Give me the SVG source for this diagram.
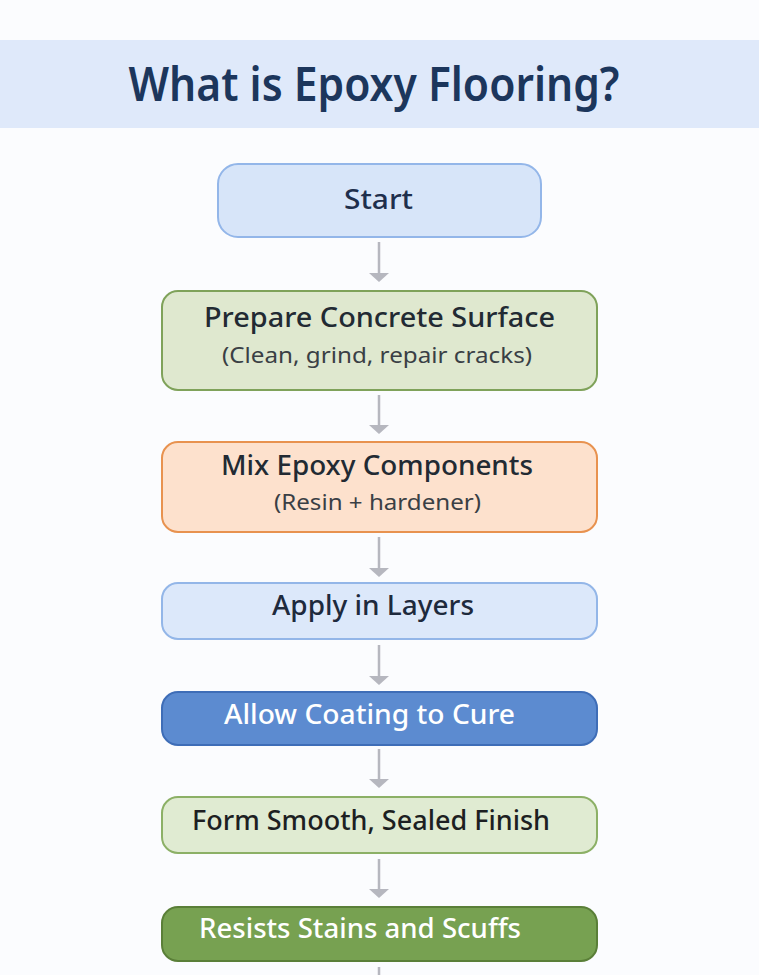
<svg xmlns="http://www.w3.org/2000/svg" width="759" height="975" viewBox="0 0 759 975">
<defs>
<style>
.t{font-family:"Noto Sans","Open Sans","DejaVu Sans",sans-serif;text-anchor:middle}
.h{font-size:27px;font-weight:500;fill:#222a33}
.s{font-size:22.5px;font-weight:400;fill:#3a3f45}
.c{stroke:#b6b7bf;stroke-width:2.5;fill:none}
.a{fill:#b6b7bf}
</style>
</defs>
<rect width="759" height="975" fill="#fbfcfe"/>
<g id="title">
<rect x="0" y="40" width="759" height="88" fill="#dfe9fa"/>
<text class="t" x="374" y="101" font-size="46" font-weight="600" fill="#1c365c" textLength="491" lengthAdjust="spacingAndGlyphs">What is Epoxy Flooring?</text>
</g>
<g id="connectors">
<line class="c" x1="379" y1="242" x2="379" y2="274"/><polygon class="a" points="369,273 389,273 379,282"/>
<line class="c" x1="379" y1="395" x2="379" y2="426"/><polygon class="a" points="369,425 389,425 379,434"/>
<line class="c" x1="379" y1="537" x2="379" y2="569"/><polygon class="a" points="369,568 389,568 379,577"/>
<line class="c" x1="379" y1="645" x2="379" y2="677"/><polygon class="a" points="369,676 389,676 379,685"/>
<line class="c" x1="379" y1="749" x2="379" y2="780"/><polygon class="a" points="369,779 389,779 379,788"/>
<line class="c" x1="379" y1="859" x2="379" y2="890"/><polygon class="a" points="369,889 389,889 379,898"/>
<line class="c" x1="379" y1="967" x2="379" y2="975"/>
</g>
<g id="start">
<rect x="218" y="164" width="323" height="73" rx="20" fill="#d7e5f9" stroke="#93b6e9" stroke-width="2"/>
<text class="t h" x="378.5" y="209" style="fill:#1e2f4d" textLength="69" lengthAdjust="spacingAndGlyphs">Start</text>
</g>
<g id="prepare">
<rect x="162" y="291" width="435" height="99" rx="16" fill="#dfe8cf" stroke="#7fa25a" stroke-width="2"/>
<text class="t h" x="379.5" y="327" textLength="351" lengthAdjust="spacingAndGlyphs">Prepare Concrete Surface</text>
<text class="t s" x="377" y="363" textLength="310" lengthAdjust="spacingAndGlyphs">(Clean, grind, repair cracks)</text>
</g>
<g id="mix">
<rect x="162" y="442" width="435" height="90" rx="16" fill="#fde1cd" stroke="#e8924f" stroke-width="2"/>
<text class="t h" x="377" y="475" textLength="312" lengthAdjust="spacingAndGlyphs">Mix Epoxy Components</text>
<text class="t s" x="377.5" y="510" textLength="207" lengthAdjust="spacingAndGlyphs">(Resin + hardener)</text>
</g>
<g id="apply">
<rect x="162" y="583" width="435" height="56" rx="16" fill="#dce8fa" stroke="#93b6e8" stroke-width="2"/>
<text class="t h" x="373" y="615" style="fill:#1e2a3d" textLength="202" lengthAdjust="spacingAndGlyphs">Apply in Layers</text>
</g>
<g id="cure">
<rect x="162" y="692" width="435" height="53" rx="16" fill="#5c8bd0" stroke="#3e6db7" stroke-width="2"/>
<text class="t h" x="369.5" y="724" style="fill:#ffffff" textLength="291" lengthAdjust="spacingAndGlyphs">Allow Coating to Cure</text>
</g>
<g id="finish">
<rect x="162" y="797" width="435" height="56" rx="16" fill="#e0ebd2" stroke="#8cb066" stroke-width="2"/>
<text class="t h" x="371" y="830" style="fill:#1d1f22" textLength="358" lengthAdjust="spacingAndGlyphs">Form Smooth, Sealed Finish</text>
</g>
<g id="resists">
<rect x="162" y="907" width="435" height="54" rx="16" fill="#77a151" stroke="#5a7f38" stroke-width="2"/>
<text class="t h" x="360" y="938" style="fill:#ffffff" textLength="322" lengthAdjust="spacingAndGlyphs">Resists Stains and Scuffs</text>
</g>
</svg>
